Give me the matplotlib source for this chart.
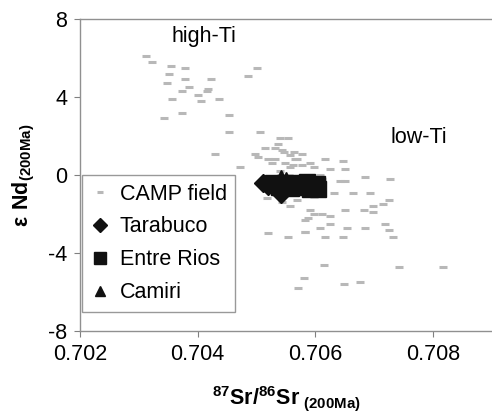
import numpy as np
import matplotlib
matplotlib.use('Agg')
import matplotlib.pyplot as plt

plt.rcParams['font.family'] = ['Liberation Sans', 'DejaVu Sans']
plt.rcParams['mathtext.fontset'] = 'custom'
plt.rcParams['mathtext.rm'] = 'Liberation Sans'
plt.rcParams['mathtext.bf'] = 'Liberation Sans:bold'

# ----------------------------------------------------------------------
# CAMP field (grey dashes)
# ----------------------------------------------------------------------
camp_sr = [0.70312, 0.70322, 0.70354, 0.70378, 0.70351, 0.70378, 0.70422, 0.70347,
           0.70385, 0.70417, 0.70373, 0.70415, 0.70400, 0.70356, 0.70437, 0.70405,
           0.70373, 0.70342,
           0.70500, 0.70486, 0.70454, 0.70454, 0.70429,
           0.70505, 0.70539, 0.70554, 0.70537, 0.70547, 0.70563, 0.70578, 0.70497,
           0.70519, 0.70532, 0.70566, 0.70617, 0.70646, 0.70471, 0.70549, 0.70590,
           0.70598, 0.70624, 0.70651, 0.70587, 0.70607, 0.70612, 0.70641, 0.70651,
           0.70685, 0.70727, 0.70420, 0.70517, 0.70603, 0.70632, 0.70663, 0.70692,
           0.70544, 0.70556, 0.70569, 0.70590, 0.70597, 0.70588, 0.70612, 0.70625,
           0.70651, 0.70683, 0.70697, 0.70714, 0.70725, 0.70697, 0.70583, 0.70608,
           0.70625, 0.70654, 0.70685, 0.70719, 0.70725, 0.70583, 0.70617, 0.70583,
           0.70519, 0.70554, 0.70647, 0.70731, 0.70615, 0.70742, 0.70817, 0.70580,
           0.70570, 0.70649, 0.70676, 0.70544, 0.70556, 0.70568, 0.70562, 0.70515,
           0.70532, 0.70556, 0.70578, 0.70539, 0.70503, 0.70527, 0.70554, 0.70534]
camp_nd = [6.1, 5.8, 5.6, 5.5, 5.2, 4.9, 4.9, 4.7, 4.5, 4.4, 4.3, 4.3, 4.1, 3.9, 3.9, 3.8,
           3.2, 2.9,
           5.5, 5.1, 3.1, 2.2, 1.1,
           2.2, 1.9, 1.9, 1.6, 1.2, 1.2, 1.1, 1.1,
           0.8, 0.8, 0.8, 0.8, 0.7, 0.4, 0.6, 0.6,
           0.4, 0.3, 0.3, 0.0, 0.0, -0.2, -0.3, -0.3,
           -0.1, -0.2, -0.9, -1.2, -0.9, -0.9, -0.9, -0.9,
           -1.4, -1.6, -1.3, -1.8, -2.0, -2.2, -2.0, -2.1,
           -1.8, -1.8, -1.6, -1.5, -1.3, -1.9, -2.3, -2.7,
           -2.5, -2.7, -2.7, -2.5, -2.8, -2.9, -3.2, -2.9,
           -3.0, -3.2, -3.2, -3.2, -4.6, -4.7, -4.7, -5.3,
           -5.8, -5.6, -5.5, 1.3, 1.0, 0.8, 0.5, 1.4,
           1.4, 0.4, 0.5, 0.2, 0.9, 0.6, -0.6, -0.6]

# Bolivian samples (black symbols)
tarabuco_sr = [0.70511, 0.70520, 0.70530, 0.70540, 0.70546, 0.70542]
tarabuco_nd = [-0.40, -0.55, -0.45, -0.60, -0.50, -0.95]
entre_rios_sr = [0.70528, 0.70538, 0.70548, 0.70558, 0.70566, 0.70572,
                 0.70586, 0.70594, 0.70603, 0.70590, 0.70604]
entre_rios_nd = [-0.40, -0.60, -0.40, -0.65, -0.40, -0.60,
                 -0.35, -0.60, -0.45, -0.70, -0.70]
camiri_sr = [0.70542, 0.70550]
camiri_nd = [-0.05, -0.15]

x_ticks = [0.702, 0.704, 0.706, 0.708]
y_ticks = [-8, -4, 0, 4, 8]

# ----------------------------------------------------------------------
fig = plt.figure(figsize=(4.92, 4.19), dpi=100)
ax = fig.add_axes([80 / 492, 1 - 331 / 419, 412 / 492, 312 / 419])

ax.plot(camp_sr, camp_nd, ls='none', marker='_', ms=6, mew=2.2, color='#b8b8b8',
        label='CAMP field')
ax.plot(entre_rios_sr, entre_rios_nd, ls='none', marker='s', ms=11, color='#111111',
        label='Entre Rios')
ax.plot(tarabuco_sr, tarabuco_nd, ls='none', marker='D', ms=9, color='#111111',
        label='Tarabuco')
ax.plot(camiri_sr, camiri_nd, ls='none', marker='^', ms=9, color='#111111',
        label='Camiri')

ax.set_xlim(0.702, 0.709)
ax.set_ylim(-8, 8)
ax.set_xticks(x_ticks)
ax.set_xticklabels(['%.3f' % v for v in x_ticks])
ax.set_yticks(y_ticks)
ax.set_yticklabels([str(v) for v in y_ticks])
ax.tick_params(labelsize=15.5, length=4, color='#808080', direction='out', pad=5)

for s in ['left', 'bottom', 'top']:
    ax.spines[s].set_color('#909090')
    ax.spines[s].set_linewidth(1.0)
ax.spines['right'].set_visible(False)

ax.text(0.7041, 7.1, 'high-Ti', fontsize=15.5, ha='center', va='center')
ax.text(0.70775, 1.9, 'low-Ti', fontsize=15.5, ha='center', va='center')

ax.set_xlabel(r'$^{\mathbf{87}}\mathbf{Sr/}^{\mathbf{86}}\mathbf{Sr}_{\ \mathbf{(200Ma)}}$',
              fontsize=15.5, labelpad=14)
ax.set_ylabel(r'$\mathbf{\epsilon\ Nd}_{\mathbf{(200Ma)}}$', fontsize=15.5, labelpad=8)

handles, labels = ax.get_legend_handles_labels()
order = ['CAMP field', 'Tarabuco', 'Entre Rios', 'Camiri']
hl = dict(zip(labels, handles))
leg = ax.legend([hl[k] for k in order], order,
                loc='upper left', bbox_to_anchor=(0.005, 0.5), borderaxespad=0,
                fontsize=15.5, frameon=True, fancybox=False, handlelength=0.9,
                handletextpad=0.45, labelspacing=0.55, borderpad=0.4,
                markerscale=0.8)
leg.get_frame().set_edgecolor('#808080')
leg.get_frame().set_linewidth(1.0)

plt.savefig('out.png', dpi=100)
